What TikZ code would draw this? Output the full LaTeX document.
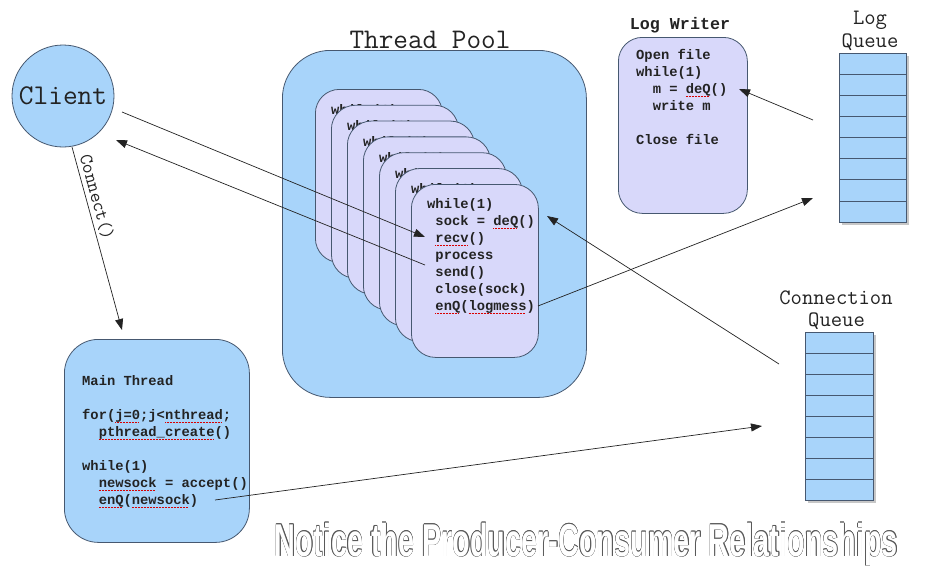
\documentclass[tikz,border=0pt]{standalone}
\usepackage{fontspec}
\usetikzlibrary{arrows.meta}
\setmainfont{Liberation Sans}
\newfontfamily\codefont{Liberation Mono}
\definecolor{poolblue}{RGB}{168,212,250}
\definecolor{lav}{RGB}{216,216,250}
\definecolor{edge}{RGB}{70,88,112}
\definecolor{ink}{RGB}{35,35,35}
\newsavebox\squigbox
\newcommand\squig[1]{\sbox\squigbox{#1}\rlap{\raisebox{-2.8pt}{\textcolor{red!85!black}{\leaders\hbox to 1.5pt{\rule{0.9pt}{0.6pt}\hss}\hskip\wd\squigbox}}}\usebox\squigbox}
\newcommand\ocopy[3]{\rlap{\hspace*{#1}\raisebox{#2}{#3}}}
\newcommand\outlined[1]{{\color{black!65}%
 \ocopy{0.6pt}{0pt}{#1}\ocopy{-0.6pt}{0pt}{#1}\ocopy{0pt}{0.6pt}{#1}\ocopy{0pt}{-0.6pt}{#1}%
 \ocopy{0.42pt}{0.42pt}{#1}\ocopy{-0.42pt}{0.42pt}{#1}\ocopy{0.42pt}{-0.42pt}{#1}\ocopy{-0.42pt}{-0.42pt}{#1}}%
 {\color{white}#1}}
\begin{document}
\begin{tikzpicture}[x=1pt,y=-1pt,
  roundbox/.style={draw=edge, line width=0.8pt, inner sep=0pt, anchor=north west},
  codetxt/.style={font=\codefont\bfseries\fontsize{13.8}{17}\selectfont, align=left, inner sep=0pt, anchor=north west, text=ink, execute at begin node=\rule{0pt}{11pt}},
  lbl/.style={font=\ttfamily\fontsize{22}{24}\selectfont, text=ink, inner sep=0pt},
  arr/.style={draw=ink, line width=0.7pt, -{Triangle[length=11pt,width=8pt]}},
  queue/.style={draw=edge, line width=0.8pt, fill=poolblue, inner sep=0pt, anchor=north west},
  qshadow/.style={fill=black!22, inner sep=0pt, anchor=north west}]
\useasboundingbox (0,0) rectangle (932,581);
\fill[white] (0,0) rectangle (932,581);

% Client
\node[draw=edge, fill=poolblue, circle, minimum size=102pt, inner sep=0pt, line width=0.8pt, text=ink,
      font=\ttfamily\fontsize{28.6}{30}\selectfont] (client) at (63,96) {Client};

% Thread pool
\node[lbl, font=\ttfamily\fontsize{28.4}{30}\selectfont] (pooltitle) at (430,40) {Thread Pool};
\node[roundbox, fill=poolblue, rounded corners=48pt, minimum width=304pt, minimum height=347pt] (pool) at (282,50) {};
\foreach \i in {0,...,5}{
  \node[roundbox, fill=lav, rounded corners=24pt, minimum width=127pt, minimum height=173pt] (card\i) at ({315+16*\i},{89+15.83*\i}) {};
  \node[codetxt] (cardtxt\i) at ({331+16*\i},{103.5+15.83*\i}) {while(1)};
}
\node[roundbox, fill=lav, rounded corners=24pt, minimum width=127pt, minimum height=173pt] (card6) at (411,184) {};
\node[codetxt] (cardtxt6) at (427,198.5) {while(1)\\
\hspace*{0.6em}sock = \squig{deQ}()\\
\hspace*{0.6em}\squig{recv}()\\
\hspace*{0.6em}process\\
\hspace*{0.6em}send()\\
\hspace*{0.6em}close(sock)\\
\hspace*{0.6em}\squig{enQ}(\squig{logmess})};

% Log writer
\node[font=\codefont\bfseries\fontsize{16.7}{19}\selectfont, text=ink, inner sep=0pt] (lwtitle) at (680,25) {Log Writer};
\node[roundbox, fill=lav, rounded corners=24pt, minimum width=129pt, minimum height=176pt] (logwriter) at (618,37) {};
\node[codetxt] (lwtxt) at (636,49.5) {Open file\\
while(1)\\
\hspace*{1.2em}m = \squig{deQ}()\\
\hspace*{1.2em}write m\\
\\
Close file};

% Main thread
\node[roundbox, fill=poolblue, rounded corners=34pt, minimum width=185pt, minimum height=203pt] (mainthread) at (64,339) {};
\node[codetxt] (maintxt) at (82,375.5) {Main Thread\\
\\
for(\squig{j=0};j<\squig{nthread};\\
\hspace*{1.2em}\squig{pthread\_create}()\\
\\
while(1)\\
\hspace*{1.2em}\squig{newsock} = accept()\\
\hspace*{1.2em}\squig{enQ}(\squig{newsock})};

% Log queue
\node[lbl] (lqtitle1) at (870,20) {Log};
\node[lbl] (lqtitle2) at (870,42) {Queue};
\node[qshadow, minimum width=67pt, minimum height=169pt] (lqshadow) at (842,56) {};
\node[queue, minimum width=67pt, minimum height=169pt] (logq) at (839,53) {};
\foreach \k in {1,...,7}
  \draw[edge, line width=0.7pt] (839,{53+\k*21.125}) -- (906,{53+\k*21.125});

% Connection queue
\node[lbl] (cqtitle1) at (836,298) {Connection};
\node[lbl] (cqtitle2) at (836.5,321) {Queue};
\node[qshadow, minimum width=68pt, minimum height=168pt] (cqshadow) at (808,335) {};
\node[queue, minimum width=68pt, minimum height=168pt] (connq) at (805,332) {};
\foreach \k in {1,...,7}
  \draw[edge, line width=0.7pt] (805,{332+\k*21}) -- (873,{332+\k*21});

% connector end points
\coordinate (cl1) at (122,112);
\coordinate (recv) at (425,237);
\coordinate (send) at (425,265);
\coordinate (cl2) at (116,140);
\coordinate (cl3) at (72,147);
\coordinate (mt1) at (122,330);
\coordinate (cq1) at (779,364);
\coordinate (deq) at (547,216);
\coordinate (logm) at (538,306);
\coordinate (lq1) at (813,198);
\coordinate (lq2) at (813,120);
\coordinate (lw1) at (739,89);
\coordinate (nsock) at (215,500);
\coordinate (cq2) at (762,426);

\draw[arr] (cl1) -- (recv);
\draw[arr] (send) -- (cl2);
\draw[arr] (cl3) -- node[sloped, pos=0.29, above=3pt, inner sep=0pt, text=ink,
   font=\ttfamily\fontsize{19}{21}\selectfont] (connectlbl) {Connect()} (mt1);
\draw[arr] (cq1) -- (deq);
\draw[arr] (logm) -- (lq1);
\draw[arr] (lq2) -- (lw1);
\draw[arr] (nsock) -- (cq2);

% Caption
\node[inner sep=0pt, anchor=base] (notice) at (586.5,556)
  {\resizebox{623pt}{\height}{\fontsize{46}{50}\selectfont\bfseries\outlined{Notice the Producer-Consumer Relationships}}};
\end{tikzpicture}
\end{document}
